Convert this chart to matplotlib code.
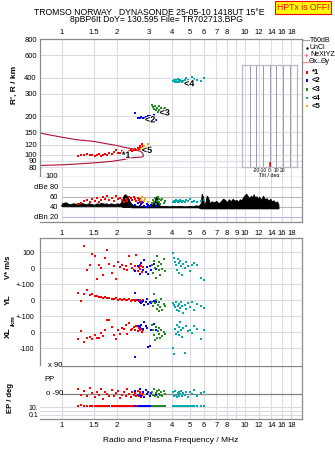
import numpy as np
import matplotlib.pyplot as plt
import matplotlib.ticker as mtick
import matplotlib.patheffects as pe
from matplotlib.lines import Line2D
from matplotlib.patches import Rectangle

plt.rcParams['font.family'] = ['Liberation Sans', 'DejaVu Sans']

nan = np.nan

# ---- values ----
freq_ticks = [1, 1.5, 2, 3, 4, 5, 6, 7, 8, 9, 10, 12, 14, 16, 18]
freq_labels = ['1', '1.5', '2', '3', '4', '5', '6', '7', '8', '', '10', '12', '14', '16', '18']
freq_labels_mid = ['1', '1.5', '2', '3', '4', '5', '6', '7', '8', '9', '10', '12', '14', '16', '18']
range_ticks = [80, 90, 100, 120, 150, 200, 300, 400, 600, 800]

# model profile curve
model_f = [0.755, 0.85, 1.0, 1.2, 1.5, 1.8, 2.0, 2.2, 2.45, 2.6, 2.7, 2.76, 2.79, 2.79,
           2.75, 2.65, 2.45, 2.15, 1.9, 1.6, 1.35, 1.05, 0.9, 0.755]
model_r = [148, 143, 137, 131, 127, 121, 118, 114, 111, 108, 106, 103, 100, 97,
           96, 95.5, 95, 91.5, 89, 87, 85.5, 83.6, 83, 82.5]

# echo groups: frequency (MHz), range (km), amplitude (dB), V* (m/s), YL, XL (km), PP, EP (deg)
red_f = [1.23, 1.27, 1.33, 1.37, 1.42, 1.47, 1.51, 1.55, 1.60, 1.64, 1.68, 1.72, 1.77, 1.82,
         1.88, 1.93, 1.98, 2.03, 2.08, 2.13, 2.18, 2.23, 2.28, 2.33, 2.38, 2.43, 2.48, 2.52,
         2.56, 2.60, 2.63, 2.66, 2.69, 2.72, 2.75, 2.78]
red_r = [98, 100, 99, 101, 99, 100, 98, 100, 101, 98, 99, 102, 99, 104, 101, 105, 109, 104,
         103, 106, 102, 105, 104, 106, 108, 107, 109, 111, 108, 112, 110, 114, 116, 113, 122, 118]
red_amp = [47, 49, 52, 54, 50, 56, 53, 58, 51, 55, 60, 57, 63, 55, 59, 52, 62, 56, 58, 54,
           50, 57, 53, 61, 58, 55, 60, 56, 52, 59, 54, 57, 50, 53, 48, 51]
red_v = [nan, nan, 140, -10, 20, 90, 77, -69, 21, 0, -42, 60, 115, 27, -31, 15, -69, 35,
         5, 21, -6, 10, -15, 73, 27, 0, -10, 15, 80, -21, 5, 20, -5, 12, -25, 8]
red_yl = [44, -8, 40, 60, 33, 40, 28, 25, 20, 18, 15, 22, 10, 12, 8, 5, 10, 3, 6, 0, 4,
          -2, 2, 5, -3, 0, 3, -5, 1, -2, -6, 2, -8, -4, -10, 0]
red_xl = [-42, 8, -60, -40, -30, -45, -20, -35, -40, -8, -25, 12, 75, 75, 30, -20, -46, 10,
          -15, 25, 20, 44, -10, 58, 10, 20, 30, 15, 40, 5, 25, 10, 35, 20, 0, 15]
red_pp = [-60, -95, -70, -100, -55, -85, -110, -75, -95, -60, -120, -80, -90, -105, -65, -100,
          -85, -70, -115, -95, -80, -100, -60, -90, -110, -75, -95, -85, -105, -70, -100, -90,
          -80, -110, -95, -85]
red_ep = [22, 25, 18, 20, 24, 19, 21, 17, 23, 20, 18, 22, 19, 21, 24, 18, 20, 23, 19, 21,
          17, 22, 20, 18, 24, 19, 21, 23, 18, 20, 22, 19, 21, 18, 20, 23]

blue_f = [2.52, 2.62, 2.67, 2.72, 2.77, 2.82, 2.87, 2.92, 2.97, 3.02, 3.08, 3.18, 3.28]
blue_r = [211, 195, 194, 196, 195, 193, 197, 196, 199, 201, 195, 205, 187]
blue_amp = [44, 48, 42, 46, 50, 43, 41, 47, 45, 42, 44, 49, 43]
blue_v = [-20, 10, -35, 30, -10, 48, -25, 5, -40, 15, -15, 25, -5]
blue_yl = [44, 0, -10, -20, -5, -30, -15, 5, -25, -10, -20, -5, -15]
blue_xl = [-154, 40, 30, 45, 20, 65, 35, 25, -92, -85, 10, 50, 15]
blue_pp = [-70, -95, -60, -100, -80, -107, -65, -90, -75, -100, -85, -60, -95]
blue_ep = [20, 23, 18, 21, 24, 19, 22, 20, 18, 23, 21, 19, 22]

green_f = [3.1, 3.14, 3.18, 3.22, 3.26, 3.3, 3.34, 3.38, 3.42, 3.46, 3.5, 3.55, 3.6, 3.66]
green_r = [245, 235, 228, 240, 222, 230, 215, 238, 225, 218, 232, 210, 226, 230]
green_amp = [48, 55, 51, 58, 46, 53, 60, 50, 56, 47, 54, 57, 49, 52]
green_v = [20, -30, 45, 0, -62, 73, 10, -15, 35, -45, 25, -5, 55, -20]
green_yl = [-10, -40, 40, -20, 0, -55, -30, -70, -15, -45, 5, -60, -25, -35]
green_xl = [44, 10, -20, -50, 30, -35, 5, -10, 25, -40, 15, -25, 0, -15]
green_pp = [-75, -95, -60, -100, -85, -70, -110, -90, -65, -95, -80, -105, -70, -90]
green_ep = [21, 19, 23, 20, 22, 18, 21, 24, 19, 20, 22, 18, 21, 20]

cyan_f = [4.05, 4.1, 4.15, 4.2, 4.25, 4.3, 4.35, 4.4, 4.45, 4.5, 4.55, 4.6, 4.7, 4.8,
          4.9, 5.0, 5.15, 5.3, 5.5, 5.75, 6.0]
cyan_r = [375, 385, 370, 380, 372, 388, 378, 368, 382, 374, 371, 377, 384, 396, 380,
          372, 405, 390, 385, 378, 395]
cyan_amp = [50, 53, 51, 54, 52, 50, 53, 51, 55, 52, 50, 53, 51, 54, 52, 56, 51, 53, 50, 52, 54]
cyan_v = [94, 60, 40, 20, -10, 55, 30, -30, 45, 10, -42, 25, 0, 35, 15, -20, 21, 30, 20, -60, -73]
cyan_yl = [-20, -30, -45, -10, -60, -35, -25, -70, -50, -15, -40, -80, -30, -55, -20, -45,
           -10, -65, -25, -40, -50]
cyan_xl = [-98, -137, 20, -10, 45, 0, 30, -20, 60, 10, -30, 25, -130, 40, 5, 15, -5, 35, 20, -45, 10]
cyan_pp = [-80, -100, -70, -95, -110, -85, -75, -105, -90, -70, -100, -85, -95, -75, -110,
           -80, -90, -65, -100, -85, -75]
cyan_ep = [20, 22, 18, 21, 23, 19, 20, 22, 18, 21, 19, 23, 20, 18, 22, 21, 19, 20, 22, 18, 21]

orange_f = [2.7, 2.75, 2.8, 2.86, 2.95]
orange_r = [110, 113, 116, 108, 121]
orange_amp = [55, 60, 52, 57, 50]

# receiver noise (dB) versus frequency
noise_f = [1.0, 1.05, 1.1, 1.15, 1.2, 1.25, 1.3, 1.35, 1.4, 1.45, 1.5, 1.55, 1.6, 1.65,
           1.7, 1.75, 1.8, 1.85, 1.9, 1.95, 2.0, 2.05, 2.1, 2.15, 2.18, 2.22, 2.26, 2.3, 2.35,
           2.4, 2.45, 2.5, 2.6, 2.7, 2.8, 2.9, 3.0, 3.1, 3.2, 3.25, 3.3, 3.35, 3.4, 3.5, 3.6,
           3.7, 3.8, 3.9, 4.0, 4.2, 4.4, 4.6, 4.8, 5.0, 5.2, 5.4, 5.6, 5.75, 5.82, 5.9, 6.0,
           6.1, 6.2, 6.3, 6.45, 6.6, 6.8, 7.0, 7.2, 7.4, 7.6, 7.8, 8.0, 8.2, 8.4, 8.6, 8.8,
           9.0, 9.2, 9.4, 9.6, 9.8, 10.0, 10.2, 10.4, 10.6, 10.8, 11.0, 11.2, 11.4, 11.6, 11.8,
           12.0, 12.3, 12.6, 12.9, 13.2, 13.5, 13.8, 14.1, 14.4, 14.7, 15.0, 15.3]
noise_hi = [48, 50, 46, 48, 47, 49, 48, 46, 48, 47, 45, 48, 47, 49, 47, 48, 46, 48, 47, 46,
            48, 47, 49, 58, 64, 66, 63, 60, 52, 47, 45, 44, 43, 43, 42, 43, 42, 45, 50, 60, 62,
            50, 44, 43, 42, 43, 42, 42, 43, 42, 43, 42, 42, 43, 42, 44, 43, 48, 67, 62, 45, 50,
            63, 60, 48, 52, 50, 53, 48, 52, 57, 55, 50, 56, 52, 57, 53, 55, 51, 56, 54, 60, 64,
            67, 62, 58, 63, 60, 66, 59, 62, 57, 61, 55, 63, 56, 58, 53, 57, 52, 54, 49, 52, 46]
noise_lo = [43] * 23 + [41] * 6 + [40] * 28 + [38] * 47

F_MIN, F_MAX = 0.755, 20.5
FRAME = '#8c8c8c'
GRID = '#dcdce4'
C_RED, C_BLUE, C_GREEN, C_CYAN, C_ORANGE = '#ff0000', '#0000ff', '#228b22', '#00aaaa', '#ffa500'
V_OFF, YL_OFF, XL_OFF = 400, 200, 0

W, H = 335, 451


def box(x0, y0, x1, y1):
    # pixel box measured from the top-left corner -> figure fraction
    return [x0 / W, 1 - y1 / H, (x1 - x0) / W, (y1 - y0) / H]


def freq_axis(ax, labels):
    ax.set_xscale('log')
    ax.set_xlim(F_MIN, F_MAX)
    ax.xaxis.set_major_locator(mtick.FixedLocator(freq_ticks))
    ax.xaxis.set_major_formatter(mtick.FixedFormatter(labels))
    ax.xaxis.set_minor_locator(mtick.NullLocator())
    ax.tick_params(length=0, labelsize=5.5, pad=2)
    for s in ax.spines.values():
        s.set_color(FRAME)
        s.set_linewidth(0.9)
    ax.grid(axis='x', color=GRID, lw=0.8)
    ax.set_axisbelow(True)


def dots(ax, f, y, c):
    ax.scatter(f, y, s=4.5, marker='s', c=c, linewidths=0, zorder=3)


fig = plt.figure(figsize=(3.35, 4.51), dpi=100)

# header
fig.text(149 / W, 1 - 12.5 / H, 'TROMSO NORWAY   DYNASONDE 25-05-10 1418UT 15°E',
         ha='center', va='center', fontsize=6.2)
fig.text(157 / W, 1 - 20 / H, '8pBP6It DoY= 130.595 File= TR702713.BPG',
         ha='center', va='center', fontsize=6.2)
fig.text(303 / W, 1 - 7.5 / H, 'HPTx is OFF!', ha='center', va='center', fontsize=6.2,
         color='red', bbox=dict(boxstyle='square,pad=0.25', fc='#ffff00', ec='red', lw=0.8))

# ---- range panel ----
ax = fig.add_axes(box(39.5, 39, 301.7, 177))
freq_axis(ax, freq_labels)
ax.tick_params(labeltop=True, labelbottom=False)
ax.set_yscale('log')
ax.set_ylim(67, 800)
ax.yaxis.set_major_locator(mtick.FixedLocator(range_ticks))
ax.yaxis.set_major_formatter(mtick.FixedFormatter([str(v) for v in range_ticks]))
ax.yaxis.set_minor_locator(mtick.NullLocator())
ax.grid(axis='y', color=GRID, lw=0.8)
ax.plot(model_f, model_r, color='#b0103a', lw=0.8, zorder=2)
dots(ax, red_f, red_r, C_RED)
dots(ax, blue_f, blue_r, C_BLUE)
dots(ax, green_f, green_r, C_GREEN)
dots(ax, cyan_f, cyan_r, C_CYAN)
dots(ax, orange_f, orange_r, C_ORANGE)
halo = [pe.withStroke(linewidth=1.5, foreground='white')]
for txt, f, r in [('*1', 2.25, 99), ('<2', 3.04, 187), ('<3', 3.65, 212),
                  ('<4', 4.97, 357), ('<5', 2.92, 108)]:
    ax.text(f, r, txt, fontsize=6.5, fontweight='bold', ha='center', va='center',
            path_effects=halo, zorder=4)
fig.text(14 / W, 1 - 85 / H, "R', R / km", rotation=90, ha='center', va='center',
         fontsize=6, fontweight='bold')

# tilt inset
axt = fig.add_axes(box(242, 65, 297.3, 167.3))
axt.set_xlim(-41.5, 41.5)
axt.set_ylim(0, 1)
for v in [-30, -20, -10, 0, 10, 20, 30]:
    axt.axvline(v, color='#9a9ab0', lw=0.7)
axt.plot([0, 0], [0, 0.04], color='red', lw=1.2)
axt.set_xticks([-20, -10, 0, 10, 20])
axt.set_xticklabels(['-20', '-10', '0', '10', '20'])
axt.set_yticks([])
axt.tick_params(length=0, labelsize=3.6, pad=0.8)
axt.set_xlabel('Tilt / deg', fontsize=3.8, labelpad=0)
for s in axt.spines.values():
    s.set_color('#b8b8c8')
    s.set_linewidth(0.9)
axt.patch.set_alpha(0)

# legend column on the right
fig.add_artist(Line2D([303 / W, 308.5 / W], [1 - 40 / H] * 2, color='#a0a0a0', lw=0.8))
fig.text(309.5 / W, 1 - 40 / H, 'T60dB', fontsize=5, va='center')
fig.add_artist(Line2D([307 / W], [1 - 47.5 / H], marker='.', ms=1.5, color='black'))
fig.text(310 / W, 1 - 47.3 / H, 'UnCl', fontsize=5, va='center')
fig.add_artist(Line2D([306 / W], [1 - 54.5 / H], marker='+', ms=3, mew=0.7, color='#ff8080'))
fig.text(310 / W, 1 - 54.3 / H, 'NeXtYZ', fontsize=5, va='center')
fig.add_artist(Line2D([303 / W, 308 / W], [1 - 61.7 / H] * 2, color='#ff8080', lw=0.8))
fig.text(309 / W, 1 - 61.7 / H, 'Θx', fontsize=5, va='center')
fig.add_artist(Line2D([316.5 / W, 320.5 / W], [1 - 61.7 / H] * 2, color='#a0a0ff', lw=0.8))
fig.text(321 / W, 1 - 61.7 / H, 'Θy', fontsize=5, va='center')
for i, (c, txt) in enumerate([(C_RED, '*1'), (C_BLUE, '<2'), (C_GREEN, '<3'),
                              (C_CYAN, '<4'), (C_ORANGE, '<5')]):
    yy = [72.3, 80.7, 89.5, 98, 106][i]
    fig.add_artist(Rectangle(((305.5) / W, 1 - (yy + 1.3) / H), 2.6 / W, 2.6 / H,
                             transform=fig.transFigure, fc=c, ec='none'))
    fig.text(311.5 / W, 1 - yy / H, txt, fontsize=5.5, fontweight='bold', va='center')

# ---- amplitude panel ----
ax = fig.add_axes(box(39.5, 177, 301.7, 222))
freq_axis(ax, freq_labels_mid)
ax.tick_params(pad=5.5)
ax.spines['left'].set_visible(False)
ax.spines['top'].set_visible(False)
ax.set_ylim(11, 100)
ax.set_yticks([])
for lvl, c in [(80, '#c8c8c8'), (60, '#b8b8b8'), (40, '#b8b8b8'), (20, '#b8b8e8')]:
    ax.hlines(lvl, 1.0, F_MAX, color=c, lw=0.8, zorder=1)
for lvl, txt in [(100, '100'), (80, 'dBe 80'), (60, '60'), (40, '40'), (20, 'dBn 20')]:
    ax.text(0.955, lvl, txt, fontsize=5.5, ha='right', va='center')
ax.fill_between(noise_f, noise_lo, noise_hi, color='black', lw=0.6, zorder=2)
ax.plot(noise_f, noise_lo, color='black', lw=1.0, zorder=2)
dots(ax, red_f, red_amp, C_RED)
dots(ax, blue_f, blue_amp, C_BLUE)
dots(ax, green_f, green_amp, C_GREEN)
dots(ax, cyan_f, cyan_amp, C_CYAN)
dots(ax, orange_f, orange_amp, C_ORANGE)

# ---- velocity / location panel ----
ax = fig.add_axes(box(39.5, 238, 301.7, 365.7))
freq_axis(ax, freq_labels)
ax.tick_params(labelbottom=False)
ax.spines['bottom'].set_visible(False)
ax.set_ylim(-210, 588)
v_ticks = [500, 400, 300, 200, 100, 0, -100]
ax.set_yticks(v_ticks)
ax.set_yticklabels(['100', '0', '+-100', '0', '+-100', '0', '-100'])
ax.tick_params(axis='y', pad=3.5, labelsize=5.2)
ax.grid(axis='y', color=GRID, lw=0.8)
for f, v, yl, xl, c in [(red_f, red_v, red_yl, red_xl, C_RED),
                        (blue_f, blue_v, blue_yl, blue_xl, C_BLUE),
                        (green_f, green_v, green_yl, green_xl, C_GREEN),
                        (cyan_f, cyan_v, cyan_yl, cyan_xl, C_CYAN)]:
    dots(ax, f, np.array(v) + V_OFF, c)
    dots(ax, f, np.array(yl) + YL_OFF, c)
    dots(ax, f, np.array(xl) + XL_OFF, c)
fig.text(9 / W, 1 - 267 / H, 'V* m/s', rotation=90, ha='center', va='center',
         fontsize=5.5, fontweight='bold')
fig.text(8 / W, 1 - 300 / H, 'YL', rotation=90, ha='center', va='center',
         fontsize=6, fontweight='bold')
fig.text(13 / W, 1 - 321 / H, '/km', rotation=90, ha='center', va='center',
         fontsize=4.5, fontweight='bold')
fig.text(8 / W, 1 - 333 / H, 'XL', rotation=90, ha='center', va='center',
         fontsize=6, fontweight='bold')

# ---- polarisation panel ----
ax = fig.add_axes(box(39.5, 365.7, 301.7, 402))
freq_axis(ax, freq_labels)
ax.tick_params(labelbottom=False)
for s in ['left', 'bottom', 'top']:
    ax.spines[s].set_visible(False)
ax.set_ylim(-141, 90)
ax.set_yticks([])
ax.axhline(90, xmin=0.085, color='#808080', lw=0.9)
ax.axhline(-90, xmin=0.085, color='#808080', lw=0.9)
ax.text(0.84, 90, 'x 90', fontsize=5.5, va='center')
ax.text(0.8, 5, 'PP', fontsize=5.5, va='center')
ax.text(0.82, -90, 'o -90', fontsize=5.5, va='center')
dots(ax, red_f, red_pp, C_RED)
dots(ax, blue_f, blue_pp, C_BLUE)
dots(ax, green_f, green_pp, C_GREEN)
dots(ax, cyan_f, cyan_pp, C_CYAN)

# ---- error panel ----
ax = fig.add_axes(box(39.5, 402, 301.7, 419))
freq_axis(ax, freq_labels)
for s in ['left', 'top']:
    ax.spines[s].set_visible(False)
ax.set_yscale('log')
ax.set_ylim(0.0076, 200)
ax.yaxis.set_major_locator(mtick.FixedLocator([0.1, 10]))
ax.yaxis.set_major_formatter(mtick.FixedFormatter(['0.1', '10.']))
ax.yaxis.set_minor_locator(mtick.FixedLocator([1]))
ax.yaxis.set_minor_formatter(mtick.NullFormatter())
ax.tick_params(axis='y', which='both', length=0, pad=1, labelsize=5)
ax.grid(axis='y', which='both', color=GRID, lw=0.8)
dots(ax, red_f, red_ep, C_RED)
dots(ax, blue_f, blue_ep, C_BLUE)
dots(ax, green_f, green_ep, C_GREEN)
dots(ax, cyan_f, cyan_ep, C_CYAN)
ax.set_xlabel('Radio and Plasma Frequency / MHz', fontsize=6, labelpad=6)
fig.text(10 / W, 1 - 398 / H, 'EP / deg', rotation=90, ha='center', va='center',
         fontsize=5.5, fontweight='bold')

fig.savefig('out.png', dpi=100)
